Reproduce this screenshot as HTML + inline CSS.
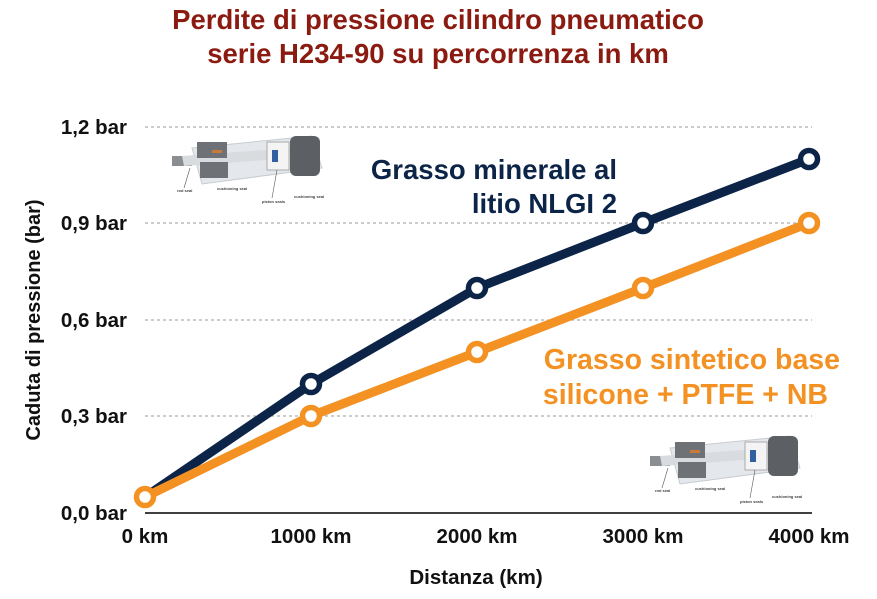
<!DOCTYPE html>
<html><head><meta charset="utf-8"><style>
html,body{margin:0;padding:0;background:#fff;}
svg{display:block;}
text{font-family:"Liberation Sans",Arial,sans-serif;font-weight:bold;}
</style></head><body>
<svg width="877" height="599" viewBox="0 0 877 599">
<defs>
<g id="cyl">
 <polygon points="20,20 140,8 150,40 30,56" fill="#e4e8ec" stroke="#c8ccd0"/>
 <rect x="0" y="28" width="20" height="10" fill="#8a8e92"/>
 <polygon points="10,28 120,20 122,30 12,38" fill="#d8dcdf"/>
 <rect x="25" y="14" width="30" height="16" fill="#6e7276"/>
 <rect x="28" y="34" width="28" height="16" fill="#6e7276"/>
 <rect x="95" y="14" width="22" height="28" fill="#f4f4f4" stroke="#aaa"/>
 <rect x="118" y="8" width="30" height="40" rx="6" fill="#5c6064"/>
 <rect x="40" y="22" width="10" height="3" fill="#c87a3a"/>
 <rect x="100" y="22" width="6" height="12" fill="#3060a0"/>
 <line x1="18" y1="40" x2="12" y2="60" stroke="#555" stroke-width="0.6"/>
 <line x1="105" y1="42" x2="100" y2="70" stroke="#555" stroke-width="0.6"/>
 <text x="5" y="64" font-size="4" font-weight="normal" fill="#444">rod seal</text>
 <text x="45" y="62" font-size="4" font-weight="normal" fill="#444">cushioning seal</text>
 <text x="90" y="75" font-size="4" font-weight="normal" fill="#444">piston seals</text>
 <text x="122" y="70" font-size="4" font-weight="normal" fill="#444">cushioning seal</text>
</g>
</defs>
<text x="438" y="29" text-anchor="middle" font-size="27.5" fill="#8b1a10">Perdite di pressione cilindro pneumatico</text>
<text x="438" y="63" text-anchor="middle" font-size="27.5" fill="#8b1a10">serie H234-90 su percorrenza in km</text>
<g stroke="#999" stroke-dasharray="3,3" stroke-width="1">
 <line x1="145" y1="127" x2="812" y2="127"/>
 <line x1="145" y1="223" x2="812" y2="223"/>
 <line x1="145" y1="320" x2="812" y2="320"/>
 <line x1="145" y1="416" x2="812" y2="416"/>
</g>
<line x1="145" y1="513" x2="812" y2="513" stroke="#000" stroke-width="1.5"/>
<g font-size="20.5" text-anchor="end" fill="#111">
 <text x="127" y="134">1,2 bar</text>
 <text x="127" y="230">0,9 bar</text>
 <text x="127" y="327">0,6 bar</text>
 <text x="127" y="423">0,3 bar</text>
 <text x="127" y="520">0,0 bar</text>
</g>
<g font-size="20.5" text-anchor="middle" fill="#111">
 <text x="145" y="543">0 km</text>
 <text x="311" y="543">1000 km</text>
 <text x="477" y="543">2000 km</text>
 <text x="643" y="543">3000 km</text>
 <text x="809" y="543">4000 km</text>
</g>
<text x="476" y="584" text-anchor="middle" font-size="20.5" fill="#111">Distanza (km)</text>
<text transform="translate(40,320) rotate(-90)" text-anchor="middle" font-size="20" fill="#111">Caduta di pressione (bar)</text>
<use href="#cyl" transform="translate(172,128)"/>
<use href="#cyl" transform="translate(650,428)"/>
<polyline points="145,497 311,384 477,288 643,223 809,159" fill="none" stroke="#0c2447" stroke-width="9" stroke-linejoin="round"/>
<polyline points="145,497 311,416 477,352 643,288 809,223" fill="none" stroke="#f39123" stroke-width="9" stroke-linejoin="round"/>
<g fill="#fff" stroke="#0c2447" stroke-width="5.5">
 <circle cx="311" cy="384" r="8.5"/><circle cx="477" cy="288" r="8.5"/><circle cx="643" cy="223" r="8.5"/><circle cx="809" cy="159" r="8.5"/>
</g>
<g fill="#fff" stroke="#f39123" stroke-width="5.5">
 <circle cx="145" cy="497" r="8.5"/><circle cx="311" cy="416" r="8.5"/><circle cx="477" cy="352" r="8.5"/><circle cx="643" cy="288" r="8.5"/><circle cx="809" cy="223" r="8.5"/>
</g>
<g font-size="27.5" text-anchor="end" fill="#0c2447">
 <text x="617" y="179">Grasso minerale al</text>
 <text x="617" y="213">litio NLGI 2</text>
</g>
<g font-size="28.5" text-anchor="end" fill="#f39123">
 <text x="840" y="369">Grasso sintetico base</text>
 <text x="828" y="404">silicone + PTFE + NB</text>
</g>
</svg>
</body></html>
